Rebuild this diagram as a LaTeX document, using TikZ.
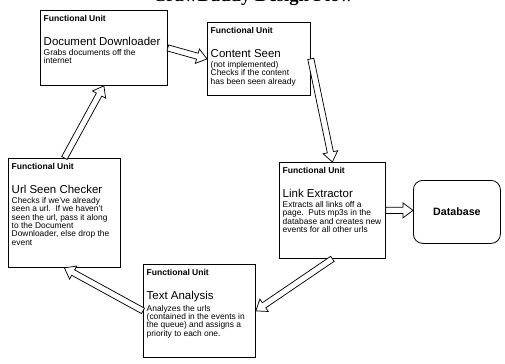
\documentclass[tikz,border=0pt]{standalone}
\usepackage{fontspec}
\setmainfont{Liberation Sans}
\newfontfamily\titleserif{Liberation Serif}
\usetikzlibrary{calc}

% text of one functional unit: width, height, name, description
\newcommand\unitcontent[4]{%
  \parbox[b][#2][t]{#1}{\raggedright\vspace*{3.6pt}%
    {\fontsize{6.4}{6.4}\selectfont\bfseries Functional Unit\par}%
    \vspace{9pt}%
    {\fontsize{8.6}{9}\selectfont #3\par}%
    \vspace{1.4pt}%
    \fontsize{6.3}{6.25}\selectfont #4\par}}

% hollow block arrow from one point to another
\newcommand\flowarrow[2]{%
  \path[flow] let \p1=(#1), \p2=(#2), \n1={atan2(\y2-\y1,\x2-\x1)} in
    ($(\p1)+(\n1+90:2.3pt)$) -- ($(\p2)+(\n1:-7.5pt)+(\n1+90:2.3pt)$)
    -- ($(\p2)+(\n1:-7.5pt)+(\n1+90:5.6pt)$) -- (\p2)
    -- ($(\p2)+(\n1:-7.5pt)+(\n1-90:5.6pt)$) -- ($(\p2)+(\n1:-7.5pt)+(\n1-90:2.3pt)$)
    -- ($(\p1)+(\n1-90:2.3pt)$) -- cycle;}

\tikzset{
  unit/.style={draw, line width=0.6pt, anchor=north west, inner xsep=2.5pt, inner ysep=0pt},
  store/.style={draw, line width=0.6pt, rounded corners=7pt, anchor=north west,
    minimum width=65.25pt, minimum height=47.25pt, font=\fontsize{8}{9}\selectfont\bfseries},
  flow/.style={draw, line width=0.55pt, fill=white, line join=miter}
}

\begin{document}
\begin{tikzpicture}[x=0.75pt,y=-0.75pt]

    \path[use as bounding box, fill=white] (0,0) rectangle (505,363);
    \clip (0,0) rectangle (505,363);

    % heading, cut off at the top edge
    \node[anchor=base, font=\titleserif\bfseries\fontsize{14}{16}\selectfont] (title) at (253,1.5) {CrawDaddy Design Flow};

    % the functional units
    \node[unit] (dd) at (40,10) {\unitcontent{90.25pt}{56.25pt}{Document Downloader}{Grabs documents off the\\internet}};
    \node[unit] (cs) at (207,22) {\unitcontent{72.25pt}{54.75pt}{Content Seen}{(not implemented)\\Checks if the content\\has been seen already}};
    \node[unit] (usc) at (8,158) {\unitcontent{79pt}{81.75pt}{Url Seen Checker}{Checks if we've already\\seen a url.\ \ If we haven't\\seen the url, pass it along\\to the Document\\Downloader, else drop the\\event}};
    \node[unit] (le) at (279,162) {\unitcontent{74.5pt}{72pt}{Link Extractor}{Extracts all links off a\\page.\ \ Puts mp3s in the\\database and creates new\\events for all other urls}};
    \node[unit] (ta) at (143,264) {\unitcontent{79pt}{69.75pt}{Text Analysis}{Analyzes the urls\\(contained in the events in\\the queue) and assigns a\\priority to each one.}};

    \node[store] (db) at (413,180) {Database};

    % flow between the units
    \foreach \src/\dst in {dd.east/cs.west, cs.east/le.north, le.east/{db.west |- le.east},
                           le.south/ta.east, ta.west/usc.south, usc.north/dd.south} {
        \flowarrow{\src}{\dst}
    }

\end{tikzpicture}
\end{document}
